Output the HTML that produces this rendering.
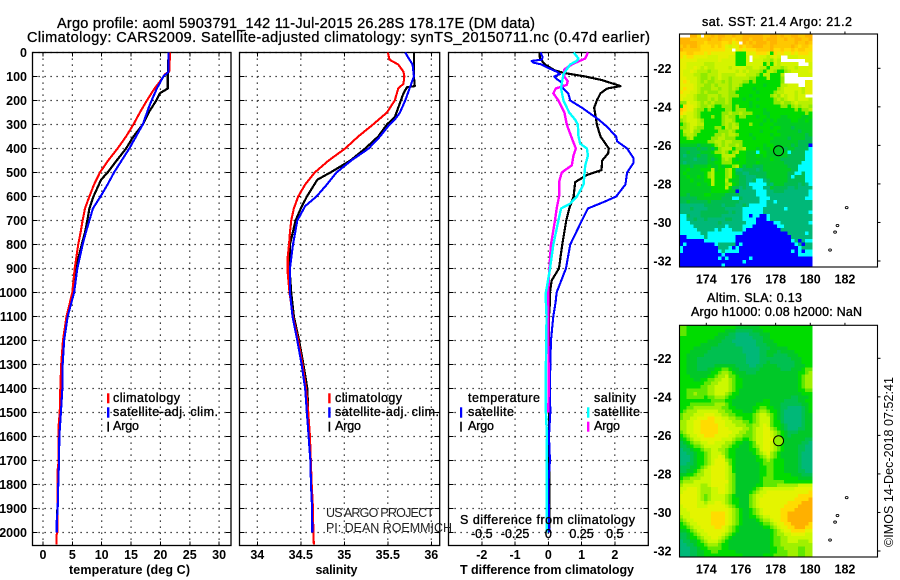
<!DOCTYPE html>
<html>
<head>
<meta charset="utf-8">
<title>Argo profile</title>
<style>
html,body{margin:0;padding:0;background:#fff;}
#chart{display:block;position:absolute;left:0;top:0;}
text{font-family:"Liberation Sans",sans-serif;fill:#000;}
.t{font-size:14.5px;stroke:#000;stroke-width:.3px;}
.b{font-size:12.5px;font-weight:bold;}
.l{font-size:12.5px;font-weight:normal;stroke:#000;stroke-width:.35px;}
.n{font-size:12.5px;fill:#222;}
</style>
</head>
<body>
<svg id="chart" xmlns="http://www.w3.org/2000/svg" width="900" height="580" viewBox="0 0 900 580">
<rect x="0" y="0" width="900" height="580" fill="#fff"/>
<g id="maps"></g>
<g id="plots"></g>

<text class="t" x="57" y="28" textLength="478" lengthAdjust="spacing">Argo profile: aoml 5903791_142 11-Jul-2015 26.28S 178.17E (DM data)</text>
<text class="t" x="27" y="42" textLength="623" lengthAdjust="spacing">Climatology: CARS2009. Satellite-adjusted climatology: synTS_20150711.nc (0.47d earlier)</text>

<text class="b" x="129.5" y="574" text-anchor="middle" textLength="121" lengthAdjust="spacing">temperature (deg C)</text>
<text class="b" x="336.5" y="574" text-anchor="middle" textLength="42" lengthAdjust="spacing">salinity</text>
<text class="b" x="547" y="574" text-anchor="middle" textLength="174" lengthAdjust="spacing">T difference from climatology</text>

<g>
<rect x="107" y="393.3" width="2.4" height="10" fill="#ff0000"/>
<rect x="107" y="407.3" width="2.4" height="10.4" fill="#0000ff"/>
<rect x="107.4" y="421.7" width="1.6" height="10" fill="#000"/>
<text class="l" x="113" y="402" textLength="67" lengthAdjust="spacing">climatology</text>
<text class="l" x="113" y="416" textLength="105" lengthAdjust="spacing">satellite-adj. clim.</text>
<text class="l" x="113" y="430" textLength="26" lengthAdjust="spacing">Argo</text>
</g>
<g>
<rect x="328.2" y="393.3" width="2.4" height="10" fill="#ff0000"/>
<rect x="328.2" y="407.3" width="2.4" height="10.4" fill="#0000ff"/>
<rect x="328.6" y="421.7" width="1.6" height="10" fill="#000"/>
<text class="l" x="335" y="402" textLength="67" lengthAdjust="spacing">climatology</text>
<text class="l" x="335" y="416" textLength="104" lengthAdjust="spacing">satellite-adj. clim.</text>
<text class="l" x="335" y="430" textLength="26" lengthAdjust="spacing">Argo</text>
</g>
<g>
<text class="l" x="468" y="402" textLength="72" lengthAdjust="spacing">temperature</text>
<rect x="460" y="407.3" width="2.2" height="10.4" fill="#0000ff"/>
<rect x="460.2" y="421.7" width="1.6" height="10" fill="#000"/>
<text class="l" x="468" y="416" textLength="46" lengthAdjust="spacing">satellite</text>
<text class="l" x="468" y="430" textLength="26" lengthAdjust="spacing">Argo</text>
<text class="l" x="594" y="402" textLength="42" lengthAdjust="spacing">salinity</text>
<rect x="587" y="407.3" width="2.4" height="10.4" fill="#00ffff"/>
<rect x="587" y="421.7" width="2.4" height="10" fill="#ff00ff"/>
<text class="l" x="594" y="416" textLength="46" lengthAdjust="spacing">satellite</text>
<text class="l" x="594" y="430" textLength="26" lengthAdjust="spacing">Argo</text>
</g>

<text class="n" x="326" y="517" textLength="108" lengthAdjust="spacing">US ARGO PROJECT</text>
<text class="n" x="326" y="532" textLength="126" lengthAdjust="spacing">PI: DEAN ROEMMICH</text>

<text class="l" x="460" y="524" textLength="175" lengthAdjust="spacing">S difference from climatology</text>

<text class="l" x="702" y="26" textLength="150" lengthAdjust="spacing">sat. SST: 21.4 Argo: 21.2</text>
<text class="l" x="707" y="302" textLength="95" lengthAdjust="spacing">Altim. SLA: 0.13</text>
<text class="l" x="691" y="316" textLength="171" lengthAdjust="spacing">Argo h1000: 0.08 h2000: NaN</text>
<text x="893" y="547" transform="rotate(-90 893 547)" font-size="12.5" textLength="170" lengthAdjust="spacing">©IMOS 14-Dec-2018 07:52:41</text>
</svg>

<script>
// ---------- shared depth axis ----------
const depthTicks = [0,100,200,300,400,500,600,700,800,900,1000,1100,1200,1300,1400,1500,1600,1700,1800,1900,2000];

// ---------- temperature panel ----------
const tempTicks = [0,5,10,15,20,25,30];
const tempClimDepth = [0,80,90,120,150,200,250,300,350,400,450,500,550,600,650,700,750,800,900,1000,1100,1200,1300,1400,1500,1550,1700,1750,2000,2010,2050];
const tempClim = [21.65,21.5,20.8,19.95,19.0,17.7,16.5,15.4,14.15,12.7,11.1,9.7,8.7,7.9,7.15,6.75,6.4,6.0,5.4,5.0,4.0,3.4,3.1,2.95,2.85,2.68,2.68,2.45,2.45,2.3,2.3];
const tempArgoDepth = [0,100,150,170,200,250,300,350,400,450,500,530,600,650,700,750,800,900,1000,1100,1200,1300,1400,1500,1600,1700,1800,1900,2000];
const tempArgo = [21.4,21.25,21.25,19.9,19.3,18.0,17.0,15.4,14.15,12.55,11.0,9.9,8.6,7.9,7.55,7.15,6.6,5.6,5.2,4.1,3.5,3.15,3.0,2.9,2.7,2.65,2.55,2.45,2.35];
const tempSatDepth = [0,80,100,150,200,230,300,350,400,450,500,550,600,650,700,750,800,900,1000,1100,1200,1300,1400,1500,1600,1700,1800,1900,1950,2000];
const tempSat = [21.4,21.4,20.5,19.4,18.5,18.0,17.0,15.85,14.7,13.4,12.1,11,9.8,8.5,7.9,7.3,6.75,5.85,5.3,4.2,3.6,3.35,3.3,3.05,2.78,2.73,2.6,2.5,2.35,2.35];

// ---------- salinity panel ----------
const salTicks = [34,34.5,35,35.5,36];
const salClimDepth = [0,30,50,80,100,130,150,200,250,300,350,400,450,500,550,600,650,700,750,800,850,920,1000,1100,1200,1300,1400,1500,1600,1700,1800,1900,2000,2050];
const salClim = [35.50,35.52,35.62,35.68,35.69,35.68,35.62,35.58,35.49,35.33,35.16,35.01,34.82,34.66,34.55,34.47,34.42,34.39,34.375,34.365,34.35,34.35,34.37,34.41,34.47,34.52,34.56,34.586,34.605,34.615,34.625,34.64,34.644,34.65];
const salArgoDepth = [0,100,140,145,170,200,250,270,300,350,400,450,500,530,600,650,700,800,900,1000,1100,1200,1300,1400,1500];
const salArgo = [35.80,35.80,35.81,35.72,35.68,35.65,35.60,35.58,35.49,35.39,35.24,35.07,34.84,34.69,34.57,34.50,34.44,34.375,34.37,34.39,34.42,34.48,34.53,34.575,34.585];
const salSatDepth = [0,30,50,100,130,150,200,250,280,300,350,400,450,500,550,600,640,700,800,900,1000,1100,1200,1300,1400,1500,1600,1700,1800,1900,2000];
const salSat = [35.70,35.75,35.785,35.80,35.77,35.75,35.70,35.64,35.58,35.52,35.41,35.28,35.08,34.91,34.80,34.68,34.55,34.46,34.41,34.375,34.375,34.405,34.46,34.51,34.55,34.57,34.59,34.61,34.617,34.63,34.632];

// ---------- difference panel ----------
const diffTicks = [-2,-1,0,1,2];
const sDiffTicks = ["-0.5","-0.25","0","0.25","0.5"];
const dTSatDepth = [0,20,30,35,42,50,60,80,90,100,110,125,150,170,200,230,280,310,350,370,400,440,460,500,550,600,620,650,700,800,900,1000,1040,1100,1200,1300,1400,1500,1600,1700,1800,2000];
const dTSat = [-0.23,-0.17,-0.2,-0.5,-0.45,-0.2,-0.07,0.25,0.35,0.18,0.25,0.4,0.45,0.6,0.66,1.01,1.52,1.77,2.04,2.07,2.37,2.56,2.56,2.37,2.32,2.04,1.72,1.19,1.01,0.66,0.53,0.25,0.22,0.15,0.08,0.06,0.05,0.06,0.02,0.05,0,0.03];
const dTArgoDepth = [0,25,50,75,86,100,115,140,150,170,200,230,280,300,350,400,420,450,490,510,540,600,650,700,800,900,950,1000,1040,1100,1400,2000];
const dTArgo = [-0.27,-0.25,-0.1,0.2,0.5,1.11,1.62,2.17,1.77,1.57,1.46,1.38,1.44,1.46,1.57,1.82,1.8,1.62,1.6,1.16,0.81,0.76,0.63,0.54,0.42,0.32,0.1,0.05,0.05,0.02,0.02,0.03];
const dSArgoDepth = [0,25,40,50,70,100,120,135,150,170,200,250,300,350,400,430,470,500,540,600,650,700,800,900,1000,1100,1400,1500];
const dSArgo = [0.298,0.278,0.215,0.177,0.121,0.121,0.146,0.139,0.056,0.038,0.076,0.121,0.139,0.172,0.207,0.189,0.177,0.101,0.081,0.081,0.063,0.05,0.02,0.008,0,0,0.003,0];
const dSSatDepth = [0,25,35,50,70,90,130,150,200,250,280,300,350,380,400,430,470,500,550,600,630,650,700,800,900,1000,1040,1100,1300,1500,1600,2000];
const dSSat = [0.19,0.227,0.215,0.164,0.139,0.114,0.101,0.096,0.114,0.157,0.202,0.222,0.227,0.24,0.29,0.298,0.278,0.273,0.265,0.215,0.164,0.096,0.076,0.038,0.013,-0.018,-0.018,-0.013,-0.018,-0.018,-0.01,-0.013];

// ---------- maps ----------
const lonTicks = [174,176,178,180,182];
const latTicks = [-22,-24,-26,-28,-30,-32];
const argoLon = 178.17;
const argoLat = -26.28;
const islandLon = [182.1,181.57,181.43,181.14];
const islandLat = [-29.23,-30.16,-30.5,-31.43];
const sstRows = [
"wwwaacwbbabaabbabbaaaaaabbaababbaabbaa",
"aaabbbbbabbabbbcbbaabaaabaaabbabbaabba",
"aaaaabbcbbbbccbdcwababaaabaabbbbbabbab",
"babaabcccbcbcdeddbcbbaaabbabbbbbabcbbc",
"abbbbbcccccccddwdcdcccbbbbaccbccbcbbcc",
"ccbbcccdcdddddddhhhdddcccdhcdcddcdcccd",
"cdccddddeeedddeehhhewddeefedewweeedddd",
"dddddeeeeeedeeeehhheweeeffgefwwwwwwwdd",
"ddeeeeefffeeeeeehhheeeeehfhefeeeeewwwe",
"ddeedefeffeeeefeeeeffeeffhfffgfeefeeee",
"deedefffgffeeeeefefefffghffghhgfeeeeed",
"deeeffggfffeffffeeefffghffhhhfwwwweeee",
"ddeeefggfgfeffgfffffgghhhfhhhgwwwwwwww",
"dcdeefgfggffgfgfffgghghhhhhhhgwwwwwwdd",
"ddddeffggfgfffgffghhhhhhihhhhffeeewwdd",
"dcddefgggffgffgfghhhhihhhhhhgfeeeeefdd",
"cddeefgfgggfffgghhhhhhihhhhgffeeefefdd",
"ddeefgggfffgffggghhhihhhhhgfgefeefeeww",
"deeefgggfgfggfghhhihhhihhhhgfgfeefeeef",
"ggdeefgfgfgggfghhhhhihhhhhhggfggfeffff",
"hcddefggfghhggghghhhihihhhhhhgghgfgffg",
"bcddfgghghhhhgghggghhhhhihhhhhhhhghggf",
"cdeefghhhhhhggfggfggghhhiihhhhhhhhhhgh",
"efeefghhhghhgfgghgghhhihhihhhiihhhhiih",
"gfeeefghhhhhgffghhhhhhhhihihiiiihhiihi",
"hgfeeffhhhhhgfgfghhhghhihhhiiiiiiiiiii",
"ggfefgghhhgghfgffhhhhhhhhhihhiiijiiiii",
"hffegghhhhhgggfghhhhhhhihhhhiiiiiijiii",
"hgffghhhhhggfgffghhhihhhhhihhiiiiiiiji",
"hhgfhhhhhggffggghhhhhihhhhhiiiijiiiijj",
"hhhhhhhhggffgffggghhhhhhhhiiiiiiiijjjj",
"iiiiijiiihgfgfggfghhhhhhihhiiiiijijjjm",
"jjjjjijjijhgfffhggfhhhihiihiiijiijjjjl",
"jjijjjiiihggfghgfhhiiilhhiiiiiiljjjjll",
"jkjjjijjiihhffffhhhiiihihiiiiiijjjjjll",
"jjjjkjjjijihgfghihhiiiiiiihiijjjjjjjll",
"jkjjjjjjiihhggghhhhiiihiiiiiiijjjjjlll",
"iiijiiiihiihihhgfhjiijjjiiiiiiijjjllll",
"iihiiihhhfihhgfhkkjjjjkjiiiiiiiijjllll",
"ihiiiiihgfhhhgfhjjkkjjjjjiiiiiijjlljll",
"iihiihihgfhhhgfhijjkkkjjjiiiiiijljjjll",
"iiihiiihhfhhhfhiijjkkjllkjiiiiijjjjjll",
"iiiiihiihfhhhgfhijjkllllljkiiijjjjkjkl",
"iiiiiiiiihhhhfhjjkjkklllkkijjjjkkjkkkk",
"iiiiiiiiihhhhhiimkkkkklllkkjjjkkkkkkkl",
"iijiiiihhiiiijjjjkkkkklllkkkkkkkkkkkkl",
"jjjjjiiiiiiijjjlljkkkkklllkkkkkkkkkkll",
"jjijjjjjijjjjjjjjkkkkkkllkklkkkkkkkkkk",
"kkkkkkkjjjjjkjjjkkjklllllkkkkkkkkkkkkk",
"kkkjkkkkjjjjjkkkkkllllllkkkkkklkkkkkkk",
"kkkkkkjjjjjjjjkjkkllllllkkkkkkkkkkkkkl",
"lljkkkjjjjjjkkkkkkllmllmmlkkkkkkkkkkkk",
"llkkjkkjkkkkkjjkkkllllmmmlkkkkkkkkkkkk",
"lllkkkkkkkkjkkkkkkklllmmmmmllkkkkkkkkl",
"llllkkkkkkkkklkkkklllmmmmmmmllkkkkkkkk",
"lllllkkkkklklllkkklmmmmmmmmmmkkkkkkkkk",
"llllllkkllllllllllmmmmmmmmmmmmmkkkkklk",
"mmlllllkllllllllmmmmmmmmmmmmmmmmkkkkkk",
"mmmmmmmlllllllllmmmmmmmmmmmmmmmmlkmkll",
"mlmmmmmmmmlkkkkkmlmmmmmmmmmmmmmmmlkmkk",
"lmmmmmmmmmmkkklmlmmmmmmmmmmmmmmmmmlkkk",
"lmmmmmmmmmmlkllllmmmmmmmmmmmmmmmlmlmll",
"mmmmmmmmmmmmlmmmmmmmmmmmmmmmmmmmmmllll",
"mmmmmmmmmmmlmlmmmmmmlmmmmmmmmmmmmmmmmm",
"mmmmmmmmmmmmmmmmmmlmmmmmmmmmmmmmmmmmmm",
"mmmmmmmmmmmmlmmmmmmmmmmmmmmmmmmmmmmmmm"
];
const slaRows = [
"44333333333333332222222333333333333333",
"44333333333332221111122233333333333333",
"44333333333222110000111222333333333333",
"33333333332221110000011122333333333333",
"33333333222211100000001122233333333333",
"33333322222111110000001112223333333333",
"33332222211111111100000111222223333333",
"33322222111111111100000112221222233333",
"33222221111111111110000112211112223333",
"33222111111111111110000111111111222333",
"33222111111111111110000112111111122333",
"33222111112222221111001122221111122233",
"33222111223344322111111222222111222344",
"33222222233455432221112222222222223345",
"33322222334556443222222222222222223455",
"33332233445566543322222222222222223455",
"33333334455666543322222222222222223455",
"33333344556666543322222222222222223455",
"33444444556666543222222222222222223344",
"33445444556665433222222222222222222333",
"33444443445554332222222222222222112223",
"33333333344443322222222233222211112233",
"33344444445554322222223333222111111223",
"33445555555544332222233443322110000123",
"34555666666554433322234554332100000123",
"45556667776655443333345665432100000122",
"45566777887766554433345666432100000122",
"55667788887776655544345666433100000122",
"55667788888776665554455676433210000122",
"55667788888777666655456677543210001122",
"45667788888777766554456677654321112222",
"34566778887777665544456677654321222222",
"23456677777766654433456677754322222211",
"12345566776665543322346677654322222110",
"11234456666655433222345677654322221100",
"01123345566554332222334677654322221100",
"00112334566654332222234567543222221000",
"00012334566764332222223456543222221000",
"00012334567775432222223345433322221000",
"00112334567776432222222344433322221000",
"11122345677776532222222334433322221000",
"11223456677776532222222334433322221100",
"22334556677776542222222334433333222111",
"34455566677776542222222344433333332222",
"45556666677777542222222344444433333333",
"56666655677776542222223344445555556666",
"66777655566776542222234566666666677777",
"67777655566776542222345667777777777778",
"77777654566665432222456677777777778888",
"77777654566665433222456777777777788889",
"77777665667765433222456777777778888999",
"67777666777776543222456777777788889999",
"66777777777777654322345677777888899999",
"66677777788887654322345677777889999999",
"56677777788887654322334566777889999999",
"45667777788887654322223455677889999999",
"34566777788887654322222344567788999998",
"33456677778876543222222233456778899988",
"22345667777776543222222222345677888877",
"11234566777765432222222222345566777766",
"11233456677654322222222222344556666666",
"01122345666543222222222222344556665556",
"00112334555433222222222222344555555555",
"00011233444433222222222222334455554455",
"00011223344333332222222222334445554455",
"00011223333333333322222233344445554455"
];

const sstColours = {a:'#ffb400',b:'#ffc800',c:'#ffdc00',d:'#e6f000',e:'#d4f400',f:'#b8f000',g:'#90ea00',h:'#00dc00',i:'#00cc22',j:'#00bc50',k:'#00b878',l:'#00ffff',m:'#0000ff',w:'#ffffff'};
const slaColours = ['#00b878','#00c050','#00c828','#00dc00','#60e800','#a0f000','#ccf800','#e4f400','#ffdc00','#ffb000'];

const NS = 'http://www.w3.org/2000/svg';
const plots = document.getElementById('plots');
const maps = document.getElementById('maps');

function mk(parent, tag, attrs, name) {
  const el = document.createElementNS(NS, tag);
  for (const k in attrs) el.setAttribute(k, attrs[k]);
  
  
  parent.appendChild(el);
  return el;
}

const PT = 52.5, PB = 545.5;
const yDepth = d => PT + d * 0.24;
const xTemp = t => 43 + t * 5.87;
const xSal = s => 257.3 + (s - 34) * 87;
const xDT = t => 548.3 + t * 33.25;
const xDS = s => 548.3 + s * 133;

function frame(name, L, R, xs) {
  const g = mk(plots, 'g', {}, name);
  depthTicks.forEach(d => {
    mk(g, 'line', {x1:L,x2:R,y1:yDepth(d),y2:yDepth(d),stroke:'#000','stroke-width':1.2,'stroke-dasharray':'1.2 4.8'}, 'depth-gridline');
    mk(g, 'line', {x1:L,x2:L+5,y1:yDepth(d),y2:yDepth(d),stroke:'#000','shape-rendering':'crispEdges'}, 'depth-tick-left');
    mk(g, 'line', {x1:R-5,x2:R,y1:yDepth(d),y2:yDepth(d),stroke:'#000','shape-rendering':'crispEdges'}, 'depth-tick-right');
  });
  xs.forEach(x => {
    mk(g, 'line', {x1:x,x2:x,y1:PT,y2:PB,stroke:'#000','stroke-width':1.2,'stroke-dasharray':'1.2 4.8'}, 'x-gridline');
    mk(g, 'line', {x1:x,x2:x,y1:PB-4,y2:PB,stroke:'#000','shape-rendering':'crispEdges'}, 'x-tick');
    mk(g, 'line', {x1:x,x2:x,y1:PT,y2:PT+4,stroke:'#000','shape-rendering':'crispEdges'}, 'x-tick-top');
  });
  mk(g, 'rect', {x:L,y:PT,width:R-L,height:PB-PT,fill:'none',stroke:'#000','stroke-width':1.3}, 'panel-frame');
  return g;
}

function series(g, xf, depths, vals, colour, width, name) {
  const pts = vals.map((v,i) => xf(v).toFixed(2) + ',' + yDepth(depths[i]).toFixed(2)).join(' ');
  mk(g, 'polyline', {points:pts,fill:'none',stroke:colour,'stroke-width':width,'stroke-linejoin':'round','shape-rendering':'crispEdges'}, name);
}

function label(g, x, y, str, anchor, name) {
  const t = mk(g, 'text', {x:x,y:y,'text-anchor':anchor,'class':'b'}, name);
  t.textContent = str;
}

// temperature panel
const g1 = frame('temperature-panel', 32.5, 231, tempTicks.map(xTemp));
series(g1, xTemp, tempArgoDepth, tempArgo, '#000', 2.2, 'temperature-argo-line');
series(g1, xTemp, tempClimDepth, tempClim, '#ff0000', 2.1, 'temperature-climatology-line');
series(g1, xTemp, tempSatDepth, tempSat, '#0000ff', 2.1, 'temperature-satellite-line');
tempTicks.forEach(t => label(g1, xTemp(t), 559, String(t), 'middle', 'temperature-tick-label'));
depthTicks.forEach(d => label(g1, 27, yDepth(d) + 4.5, String(d), 'end', 'depth-tick-label'));

// salinity panel
const g2 = frame('salinity-panel', 239.5, 439.7, salTicks.map(xSal));
series(g2, xSal, salArgoDepth, salArgo, '#000', 2.2, 'salinity-argo-line');
series(g2, xSal, salClimDepth, salClim, '#ff0000', 2.1, 'salinity-climatology-line');
series(g2, xSal, salSatDepth, salSat, '#0000ff', 2.1, 'salinity-satellite-line');
salTicks.forEach(s => label(g2, xSal(s), 559, String(s), 'middle', 'salinity-tick-label'));

// difference panel
const g3 = frame('difference-panel', 448.5, 648.3, diffTicks.map(xDT));
series(g3, xDT, dTArgoDepth, dTArgo, '#000', 2.2, 'delta-t-argo-line');
series(g3, xDT, dTSatDepth, dTSat, '#0000ff', 2.1, 'delta-t-satellite-line');
series(g3, xDS, dSArgoDepth, dSArgo, '#ff00ff', 2.4, 'delta-s-argo-line');
series(g3, xDS, dSSatDepth, dSSat, '#00ffff', 2.4, 'delta-s-satellite-line');
diffTicks.forEach(t => label(g3, xDT(t), 559, String(t), 'middle', 'delta-t-tick-label'));
sDiffTicks.forEach(s => {
  const t = mk(g3, 'text', {x:xDS(parseFloat(s)),y:538,'text-anchor':'middle','class':'l'}, 'delta-s-tick-label');
  t.textContent = s;
});
mk(g3, 'path', {d:'M448.5 527.5H450.5M450.5 523V531',stroke:'#000',fill:'none','shape-rendering':'crispEdges'}, 's-axis-stub');

// maps
const MAPL = 679.5, MAPR = 877.5, DATAR = 812;
const xLon = lon => 706.3 + (lon - 174) * 17.33;

function drawMap(name, top, bottom, lat22Y, rows, colourOf, markerFill) {
  const g = mk(maps, 'g', {}, name);
  const yLat = lat => lat22Y + (-22 - lat) * 19.27;
  const cw = (DATAR - MAPL) / rows[0].length;
  const ch = (bottom - top) / rows.length;
  rows.forEach((row, r) => {
    for (let c = 0; c < row.length; c++) {
      const fill = colourOf(row[c]);
      if (fill === '#ffffff') continue;
      mk(g, 'rect', {x:(MAPL + c * cw).toFixed(2),y:(top + r * ch).toFixed(2),width:(cw + .4).toFixed(2),height:(ch + .4).toFixed(2),fill:fill,'shape-rendering':'crispEdges'}, 'map-cell');
    }
  });
  mk(g, 'rect', {x:MAPL,y:top,width:MAPR-MAPL,height:bottom-top,fill:'none',stroke:'#000','stroke-width':1.1}, 'map-frame');
  lonTicks.forEach(lon => {
    mk(g, 'line', {x1:xLon(lon),x2:xLon(lon),y1:top-2.5,y2:top,stroke:'#000'}, 'longitude-tick');
    label(g, xLon(lon), bottom + 16.5, String(lon), 'middle', 'longitude-tick-label');
  });
  latTicks.forEach(lat => {
    mk(g, 'line', {x1:MAPR,x2:MAPR+3,y1:yLat(lat),y2:yLat(lat),stroke:'#000'}, 'latitude-tick');
    label(g, 671.5, yLat(lat) + 4.5, String(lat), 'end', 'latitude-tick-label');
  });
  islandLon.forEach((lon, i) => {
    mk(g, 'ellipse', {cx:xLon(lon),cy:yLat(islandLat[i]),rx:1.4,ry:1.1,fill:'none',stroke:'#000','stroke-width':0.9}, 'island-outline');
  });
  mk(g, 'circle', {cx:xLon(argoLon),cy:yLat(argoLat),r:5,fill:markerFill,stroke:'#000','stroke-width':1}, 'argo-location-marker');
}

drawMap('sst-map', 34, 267, 68.3, sstRows, ch => sstColours[ch], 'none');
drawMap('sla-map', 325.3, 557, 358.3, slaRows, ch => slaColours[+ch], '#90f000');
</script>
</body>
</html>
